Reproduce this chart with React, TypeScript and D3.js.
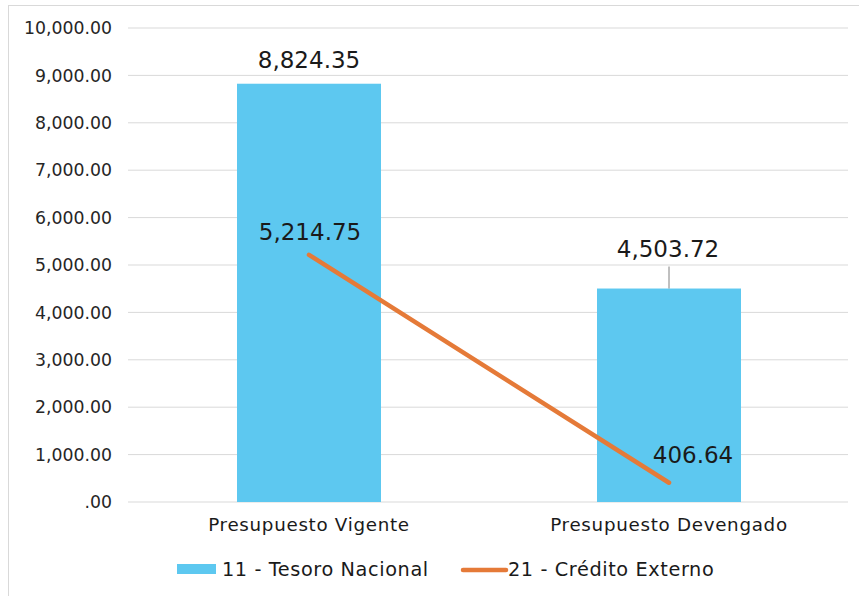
import React from "react";
import * as d3 from "d3";

const categories = ["Presupuesto Vigente", "Presupuesto Devengado"];
const tesoroNacional = [8824.35, 4503.72];
const creditoExterno = [5214.75, 406.64];
const yTicks = [0, 1000, 2000, 3000, 4000, 5000, 6000, 7000, 8000, 9000, 10000];
const seriesNames = ["11 - Tesoro Nacional", "21 - Crédito Externo"];

const W = 859;
const H = 596;
const BLUE = "#5DC8F0";
const ORANGE = "#E57A38";
const FONT = "'DejaVu Sans', sans-serif";

const fmtTick = (v: number) => (v === 0 ? ".00" : d3.format(",.2f")(v));
const fmt = d3.format(",.2f");

export default function App() {
  const y = d3.scaleLinear().domain([0, 10000]).range([502, 28]);
  const x = d3
    .scaleBand<string>()
    .domain(categories)
    .range([129, 849])
    .paddingInner(0.6)
    .paddingOuter(0.3);
  const cx = (c: string) => (x(c) as number) + x.bandwidth() / 2;

  const linePts: [number, number][] = categories.map((c, i) => [cx(c), y(creditoExterno[i])]);
  const linePath = d3.line()(linePts) as string;

  return (
    <svg
      width={W}
      height={H}
      style={{ position: "absolute", left: 0, top: 0, background: "#fff" }}
      fontFamily={FONT}
    >
      <rect x={8.5} y={5.5} width={860} height={620} fill="#fff" stroke="#d9d9d9" strokeWidth={1} />
      {yTicks.map((t) => (
        <g key={t}>
          <line x1={128} x2={848} y1={y(t)} y2={y(t)} stroke="#d9d9d9" strokeWidth={1} />
          <text
            x={112}
            y={y(t)}
            dy="0.36em"
            textAnchor="end"
            fontSize={17.3}
            fill="#262626"
          >
            {fmtTick(t)}
          </text>
        </g>
      ))}
      {categories.map((c, i) => (
        <rect
          key={c}
          x={x(c)}
          y={y(tesoroNacional[i])}
          width={x.bandwidth()}
          height={y(0) - y(tesoroNacional[i])}
          fill={BLUE}
        />
      ))}
      <path d={linePath} fill="none" stroke={ORANGE} strokeWidth={4.5} strokeLinecap="round" />
      {/* bar labels */}
      <text x={cx(categories[0])} y={y(tesoroNacional[0]) - 16} textAnchor="middle" fontSize={23} fill="#1a1a1a">
        {fmt(tesoroNacional[0])}
      </text>
      <line
        x1={cx(categories[1])}
        x2={cx(categories[1])}
        y1={y(tesoroNacional[1]) - 22}
        y2={y(tesoroNacional[1])}
        stroke="#808080"
        strokeWidth={1}
      />
      <text x={cx(categories[1]) - 1} y={y(tesoroNacional[1]) - 32} textAnchor="middle" fontSize={23} fill="#1a1a1a">
        {fmt(tesoroNacional[1])}
      </text>
      {/* line labels */}
      <text x={cx(categories[0]) + 1} y={y(creditoExterno[0]) - 15} textAnchor="middle" fontSize={23} fill="#1a1a1a">
        {fmt(creditoExterno[0])}
      </text>
      <text x={cx(categories[1]) + 24} y={y(creditoExterno[1]) - 20} textAnchor="middle" fontSize={23} fill="#1a1a1a">
        {fmt(creditoExterno[1])}
      </text>
      {/* category labels */}
      {categories.map((c) => (
        <text key={c} x={cx(c)} y={531} textAnchor="middle" fontSize={18.3} letterSpacing={0.7} fill="#1a1a1a">
          {c}
        </text>
      ))}
      {/* legend */}
      <rect x={177} y={564} width={39} height={10} fill={BLUE} />
      <text x={222} y={576} fontSize={19.3} letterSpacing={0.6} fill="#1a1a1a">
        {seriesNames[0]}
      </text>
      <line x1={463} x2={506} y1={570} y2={570} stroke={ORANGE} strokeWidth={4.5} strokeLinecap="round" />
      <text x={508} y={576} fontSize={19.3} letterSpacing={0.6} fill="#1a1a1a">
        {seriesNames[1]}
      </text>
    </svg>
  );
}
